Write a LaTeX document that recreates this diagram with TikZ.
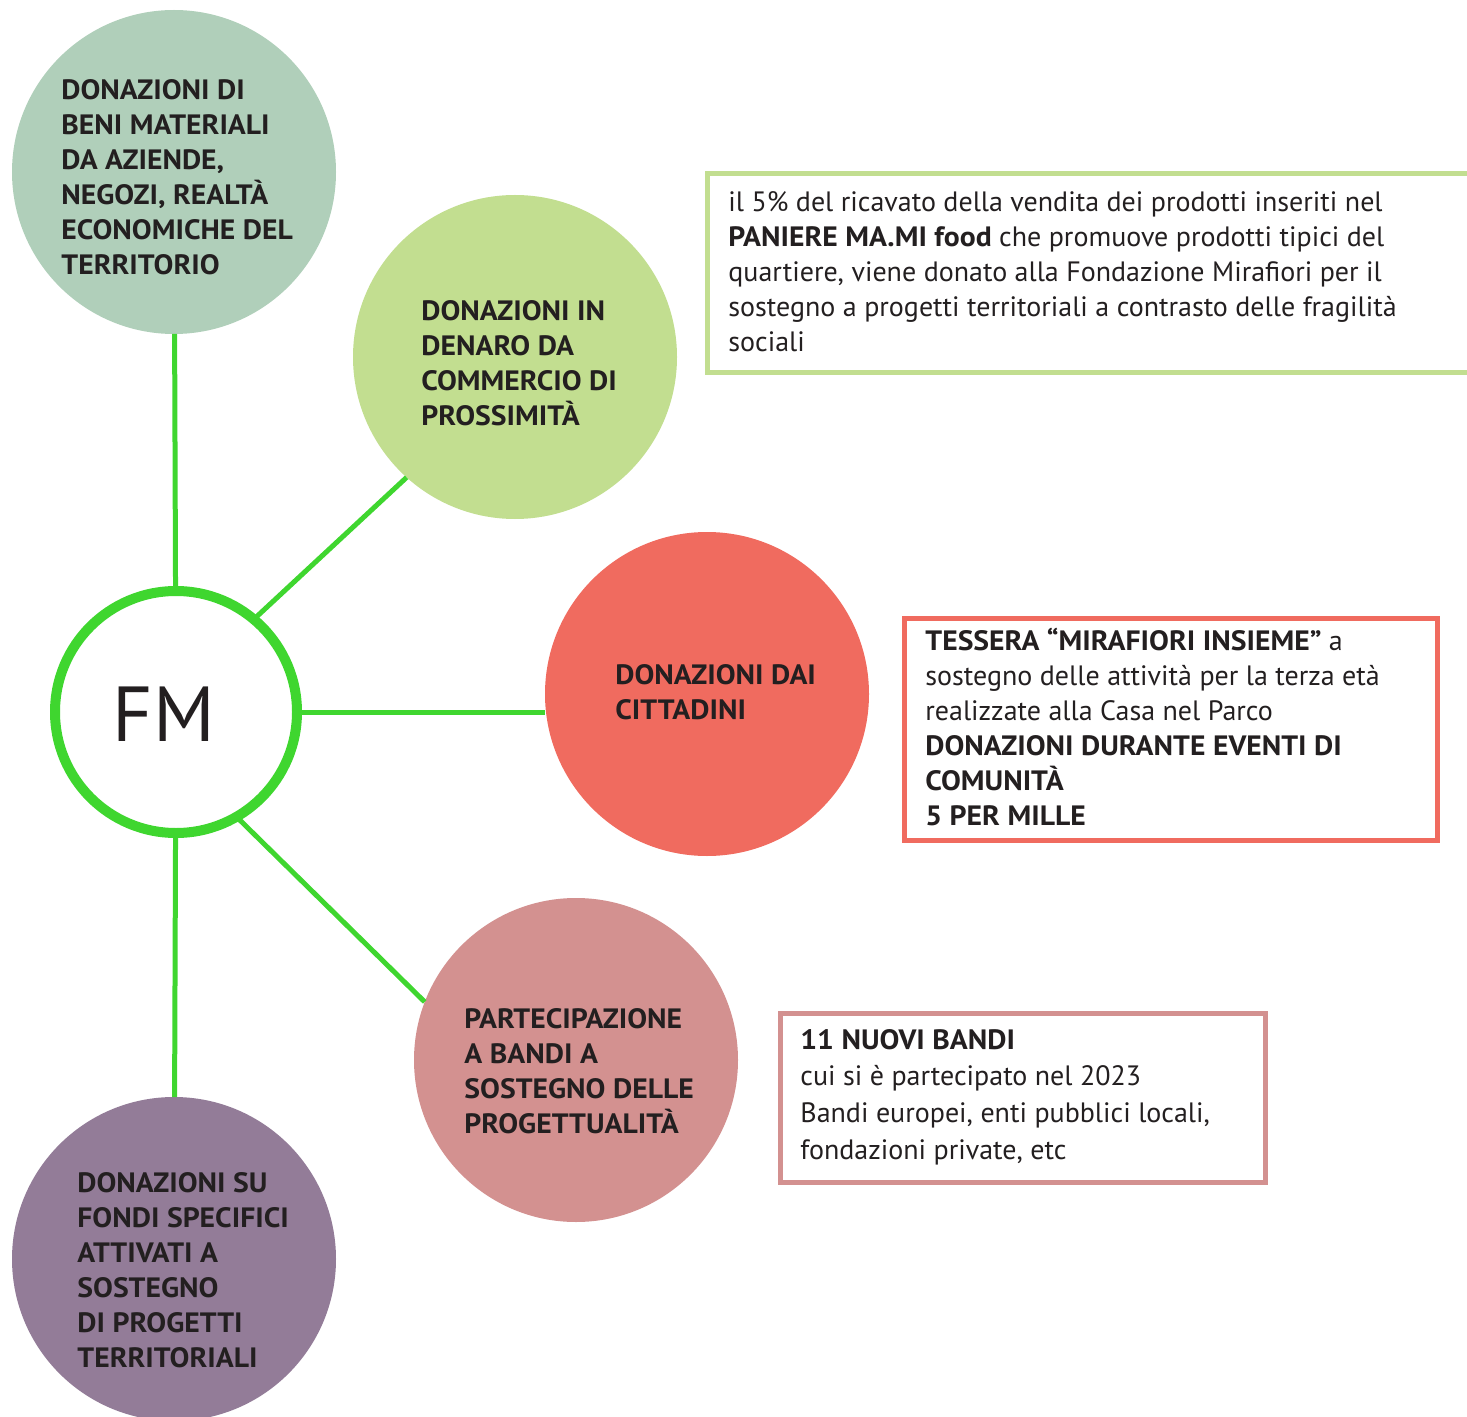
\documentclass[tikz,border=0pt]{standalone}
\usepackage{fontspec}
\setmainfont{PT Sans}[BoldFeatures={FakeStretch=1.06}]
\definecolor{sage}{HTML}{B0CFBA}
\definecolor{lime}{HTML}{C2DE90}
\definecolor{coral}{HTML}{F06B5F}
\definecolor{rose}{HTML}{D39190}
\definecolor{mauve}{HTML}{937C98}
\definecolor{lgreen}{HTML}{3FD62F}
\definecolor{ink}{HTML}{231F20}
\newcommand\lns[1]{\begin{tabular}[t]{@{}l@{}}#1\end{tabular}}
\begin{document}
\begin{tikzpicture}[x=0.5pt,y=-0.5pt,
  bubble/.style={circle, minimum size=162pt, inner sep=0pt, outer sep=0pt, draw=none},
  link/.style={draw=lgreen, line width=2.5pt},
  txt/.style={anchor=base west, inner sep=0pt, text=ink, font=\fontsize{14}{17.5}\selectfont},
  btxt/.style={txt, font=\fontsize{14}{17.5}\selectfont\bfseries},
  frame/.style={line width=2.5pt, inner sep=0pt, outer sep=0pt, anchor=north west}]
\useasboundingbox (0,0) rectangle (1467,1417);
% bubbles
\node[bubble, fill=sage]  (c1) at (174,172)  {};
\node[bubble, fill=lime]  (c2) at (515,357)  {};
\node[bubble, fill=coral] (c3) at (707,694)  {};
\node[bubble, fill=rose]  (c4) at (576,1060) {};
\node[bubble, fill=mauve] (c5) at (174,1259) {};
\node[circle, draw=lgreen, line width=5pt, fill=white, minimum size=121pt, inner sep=0pt, outer sep=0pt] (fm) at (176,712) {};
\node[inner sep=0pt, text=ink, font=\fontsize{39}{39}\selectfont] (fml) at (164,714) {FM};
% connectors
\draw[link] (fm) -- (c1);
\draw[link] (fm.50) -- (c2.228);
\draw[link] (fm.east) -- (fm.east -| c3.west);
\draw[link] (fm.-60) -- (c4.159);
\draw[link] (fm) -- (c5);
% bubble texts
\node[btxt] (t1) at (61,100) {\lns{DONAZIONI DI\\BENI MATERIALI\\DA AZIENDE,\\NEGOZI, REALTÀ\\ECONOMICHE DEL\\TERRITORIO}};
\node[btxt] (t2) at (421,321) {\lns{DONAZIONI IN\\DENARO DA\\COMMERCIO DI\\PROSSIMITÀ}};
\node[btxt] (t3) at (615,684) {\lns{DONAZIONI DAI\\CITTADINI}};
\node[btxt] (t4) at (464,1028) {\lns{PARTECIPAZIONE\\A BANDI A\\SOSTEGNO DELLE\\PROGETTUALITÀ}};
\node[btxt] (t5) at (77,1192) {\lns{DONAZIONI SU\\FONDI SPECIFICI\\ATTIVATI A\\SOSTEGNO\\DI PROGETTI\\TERRITORIALI}};
% boxes
\draw[line width=2.5pt, draw=lime] (1467,174) -- (707,174) -- (707,373) -- (1467,373);
\node[frame, draw=coral, minimum width=266.5pt, minimum height=111pt] (b2) at (904,618) {};
\node[frame, draw=rose, minimum width=242.5pt, minimum height=84.5pt] (b3) at (780,1013) {};
\node[txt] (bt1) at (728,212) {\lns{il 5\% del ricavato della vendita dei prodotti inseriti nel\\\textbf{PANIERE MA.MI food} che promuove prodotti tipici del\\quartiere, viene donato alla Fondazione Mirafiori per il\\sostegno a progetti territoriali a contrasto delle fragilità\\sociali}};
\node[txt] (bt2) at (925,650) {\lns{\textbf{TESSERA “MIRAFIORI INSIEME”} a\\sostegno delle attività per la terza età\\realizzate alla Casa nel Parco\\\textbf{DONAZIONI DURANTE EVENTI DI}\\\textbf{COMUNITÀ}\\\textbf{5 PER MILLE}}};
\node[txt, font=\fontsize{14}{18.35}\selectfont] (bt3) at (800,1049) {\lns{\textbf{11 NUOVI BANDI}\\cui si è partecipato nel 2023\\Bandi europei, enti pubblici locali,\\fondazioni private, etc}};
\end{tikzpicture}
\end{document}
